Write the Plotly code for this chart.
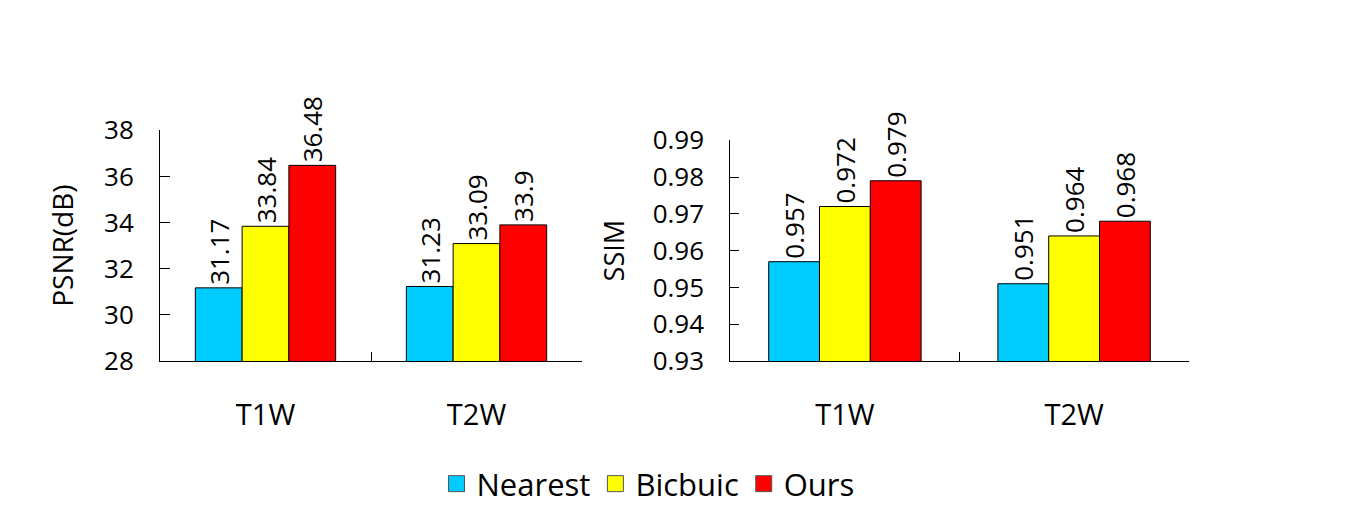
import plotly.graph_objects as go

categories = ["T1W", "T2W"]
methods = ["Nearest", "Bicbuic", "Ours"]
colors = ["#00CCFF", "#FFFF00", "#FF0000"]
psnr_nearest = [31.17, 31.23]
psnr_bicubic = [33.84, 33.09]
psnr_ours = [36.48, 33.9]
ssim_nearest = [0.957, 0.951]
ssim_bicubic = [0.972, 0.964]
ssim_ours = [0.979, 0.968]
psnr_labels = [["31.17", "31.23"], ["33.84", "33.09"], ["36.48", "33.9"]]
ssim_labels = [["0.957", "0.951"], ["0.972", "0.964"], ["0.979", "0.968"]]

FONT = "Open Sans"
W, H = 1351, 508
OFF = 8  # page body margin offset


def px_x(v):
    return (v - OFF) / W


def px_y(v):
    return (H - (v - OFF)) / H


fig = go.Figure()
psnr = [psnr_nearest, psnr_bicubic, psnr_ours]
ssim = [ssim_nearest, ssim_bicubic, ssim_ours]
for i, m in enumerate(methods):
    fig.add_trace(go.Bar(
        x=categories, y=psnr[i], name=m, text=psnr_labels[i],
        textposition="outside", textangle=-90, cliponaxis=False,
        constraintext="none",
        textfont=dict(family=FONT, size=26, color="black"),
        marker=dict(color=colors[i], line=dict(color="black", width=1)),
        xaxis="x", yaxis="y", showlegend=False,
    ))
for i, m in enumerate(methods):
    fig.add_trace(go.Bar(
        x=categories, y=ssim[i], name=m, text=ssim_labels[i],
        textposition="outside", textangle=-90, cliponaxis=False,
        constraintext="none",
        textfont=dict(family=FONT, size=26, color="black"),
        marker=dict(color=colors[i], line=dict(color="black", width=1)),
        xaxis="x2", yaxis="y2", showlegend=False,
    ))
# legend entries
for i, m in enumerate(methods):
    fig.add_trace(go.Scatter(
        x=[None], y=[None], mode="markers", name=m,
        marker=dict(symbol="square", size=24, color=colors[i],
                    line=dict(color="#555555", width=1)),
        xaxis="x", yaxis="y", showlegend=True,
    ))

axis_common = dict(
    showgrid=False, zeroline=False, showline=True, linecolor="black",
    linewidth=1, ticks="inside", tickcolor="black", tickwidth=1,
    automargin=False,
)
xfont = dict(family=FONT, size=29, color="black")
yfont = dict(family=FONT, size=26, color="black")

fig.update_layout(
    template="none",
    width=W, height=H,
    margin=dict(l=0, r=0, t=0, b=0, autoexpand=False),
    paper_bgcolor="white", plot_bgcolor="white",
    font=dict(family=FONT, color="black"),
    barmode="group", bargap=0.335, bargroupgap=0,
    xaxis=dict(domain=[px_x(160), px_x(582)], anchor="y", tickson="boundaries",
               ticklen=9, ticklabelstandoff=28, tickfont=xfont, **axis_common),
    yaxis=dict(domain=[px_y(361), px_y(130.3)], anchor="x",
               range=[28, 38], dtick=2, ticklen=10, ticklabelstandoff=20,
               tickfont=yfont,
               title=dict(text="PSNR(dB)", font=dict(family=FONT, size=28),
                          standoff=22),
               **axis_common),
    xaxis2=dict(domain=[px_x(730.3), px_x(1188.7)], anchor="y2",
                tickson="boundaries", ticklen=9, ticklabelstandoff=28,
                tickfont=xfont, **axis_common),
    yaxis2=dict(domain=[px_y(361), px_y(140.3)], anchor="x2",
                range=[0.93, 0.99], dtick=0.01, tickformat=".2f", ticklen=9,
                ticklabelstandoff=20, tickfont=yfont,
                title=dict(text="SSIM", font=dict(family=FONT, size=27),
                           standoff=20),
                **axis_common),
    legend=dict(orientation="h", x=px_x(648), xanchor="center", y=px_y(484),
                yanchor="middle", font=dict(family=FONT, size=31, color="black"),
                itemsizing="trace", bgcolor="rgba(0,0,0,0)"),
)

fig.write_html("out.html")
